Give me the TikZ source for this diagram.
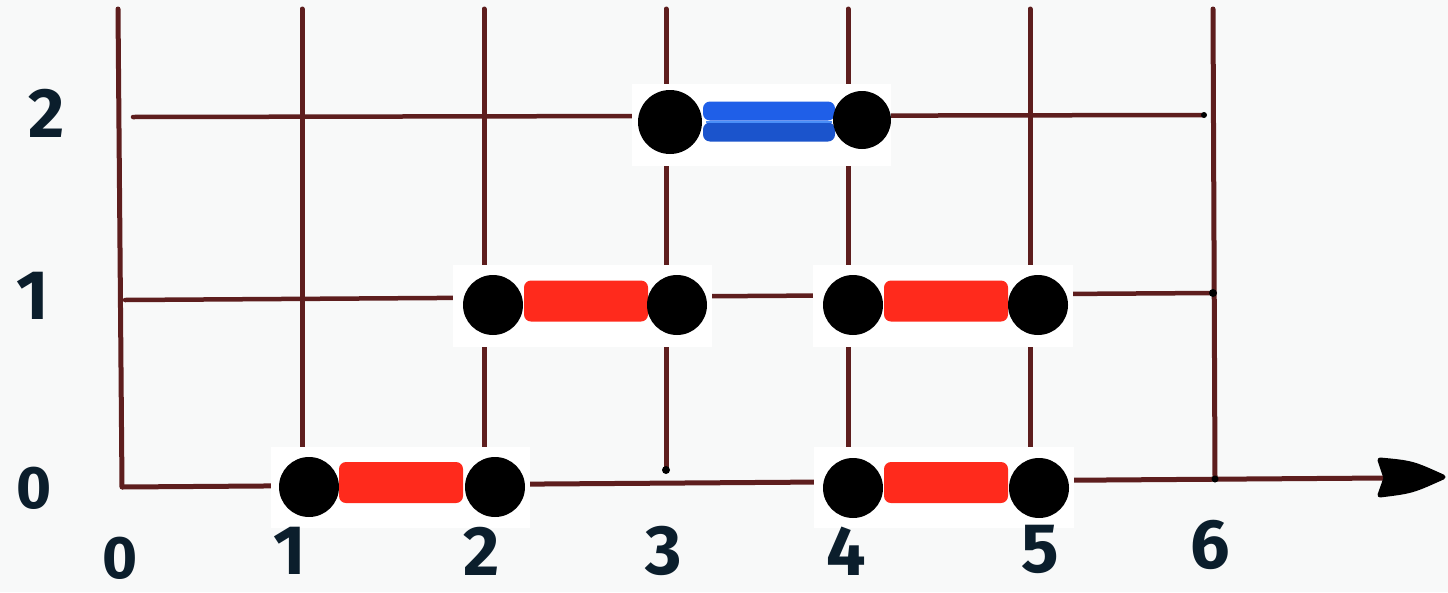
\documentclass[tikz,border=0pt]{standalone}
\usepackage{fontspec}
\newfontfamily\hand{Fira Sans}
\usetikzlibrary{arrows.meta}
\definecolor{paper}{HTML}{F8F9F9}
\definecolor{grid}{HTML}{5E1E1E}
\definecolor{ink}{HTML}{0B1E2C}
\definecolor{redbar}{HTML}{FF2A1C}
\definecolor{bluebar}{HTML}{1F5FE8}
\definecolor{bluelite}{HTML}{4A8EF7}
\tikzset{
  gridline/.style={draw=grid, line width=5pt, line cap=round},
  axisline/.style={draw=grid, line width=5pt},
  headshape/.style={fill=black, draw=black, line width=5pt, line join=round},
  pad/.style={fill=white, draw=none, inner sep=0pt},
  ball/.style={circle, fill=black, draw=none, inner sep=0pt, minimum size=60pt},
  redseg/.style={rectangle, rounded corners=7pt, fill=redbar, draw=none, inner sep=0pt, minimum width=124pt, minimum height=41pt},
  blueseg/.style={rectangle, rounded corners=7pt, fill=bluebar, draw=none, inner sep=0pt, minimum width=132pt, minimum height=19pt},
  lab/.style={text=ink, font=\hand\bfseries\fontsize{70}{70}\selectfont, inner sep=0pt},
  zlab/.style={lab, font=\hand\bfseries\fontsize{60}{60}\selectfont},
  tick/.style={circle, fill=black, inner sep=0pt, minimum size=8pt}
}
\begin{document}
\begin{tikzpicture}[x=1pt,y=-1pt]
\fill[paper] (0,0) rectangle (1448,592);
\useasboundingbox (0,0) rectangle (1448,592);

% grid vertical lines
\coordinate (v0t) at (118,9);   \coordinate (v0b) at (122,487);
\coordinate (v1t) at (302,9);   \coordinate (v1b) at (302,486);
\coordinate (v2t) at (484,9);   \coordinate (v2b) at (484,485);
\coordinate (v3t) at (666,9);   \coordinate (v3b) at (666,470);
\coordinate (v4t) at (848,9);   \coordinate (v4b) at (848,482);
\coordinate (v5t) at (1030,9);  \coordinate (v5b) at (1030,481);
\coordinate (v6t) at (1213,9);  \coordinate (v6b) at (1215,479);
\foreach \i in {0,...,6} \draw[gridline] (v\i t) -- (v\i b);

% horizontal lines
\coordinate (h2a) at (133,117); \coordinate (h2b) at (1204,115);
\coordinate (h1a) at (125,300); \coordinate (h1b) at (1213,293);
\draw[gridline, line width=4.5pt] (h2a) -- (h2b);
\draw[gridline, line width=4.5pt] (h1a) -- (h1b);

% x axis with a fat hand-drawn head
\coordinate (axend) at (1386,478);
\draw[axisline] (v0b) -- (axend);
\filldraw[headshape] (axend) -- (1380,460) .. controls (1412,463) .. (1443,477)
  .. controls (1412,491) .. (1380,495) -- cycle;

% small end dots
\node[tick] (d3) at (v3b) {};
\node[tick] (d1) at (h1b) {};
\node[tick, minimum size=6pt] (d2) at (h2b) {};
\node[tick, minimum size=7pt] (d6) at (v6b) {};

% row 2 (blue)
\node[pad, minimum width=259pt, minimum height=82pt] (p2) at (761,125) {};
\node[blueseg] (b2u) at (769,111) {};
\node[blueseg, fill=bluebar!88!black] (b2l) at (769,132) {};
\draw[bluelite, line width=2pt] (706,121.5) -- (832,121.5);
\node[ball, minimum size=64pt] (c2l) at (670,122) {};
\node[ball, minimum size=58pt] (c2r) at (862,120) {};

% row 1 left (red)
\node[pad, minimum width=259pt, minimum height=82pt] (p1l) at (582,306) {};
\node[redseg] (r1l) at (586,301) {};
\node[ball] (c1la) at (493,305) {};
\node[ball] (c1lb) at (677,305) {};

% row 1 right (red)
\node[pad, minimum width=260pt, minimum height=82pt] (p1r) at (943,306) {};
\node[redseg] (r1r) at (946,301) {};
\node[ball] (c1ra) at (853,305) {};
\node[ball] (c1rb) at (1038,305) {};

% row 0 left (red)
\node[pad, minimum width=259pt, minimum height=81pt] (p0l) at (400,487.5) {};
\node[redseg] (r0l) at (401,482.5) {};
\node[ball] (c0la) at (309,487) {};
\node[ball] (c0lb) at (495,487) {};

% row 0 right (red)
\node[pad, minimum width=260pt, minimum height=81pt] (p0r) at (944,487.5) {};
\node[redseg] (r0r) at (946,482.5) {};
\node[ball] (c0ra) at (853,488) {};
\node[ball] (c0rb) at (1039,488) {};

% y labels
\node[lab] (y2) at (47,113) {2};
\node[lab] (y1) at (33,296) {1};
\node[zlab] (y0) at (34,488) {0};

% x labels
\node[zlab] (x0) at (120,558) {0};
\node[lab] (x1) at (290,551) {1};
\node[lab] (x2) at (482,551) {2};
\node[lab] (x3) at (664,551) {3};
\node[lab] (x4) at (846,551) {4};
\node[lab] (x5) at (1040,549) {5};
\node[lab] (x6) at (1210,545) {6};
\end{tikzpicture}
\end{document}
